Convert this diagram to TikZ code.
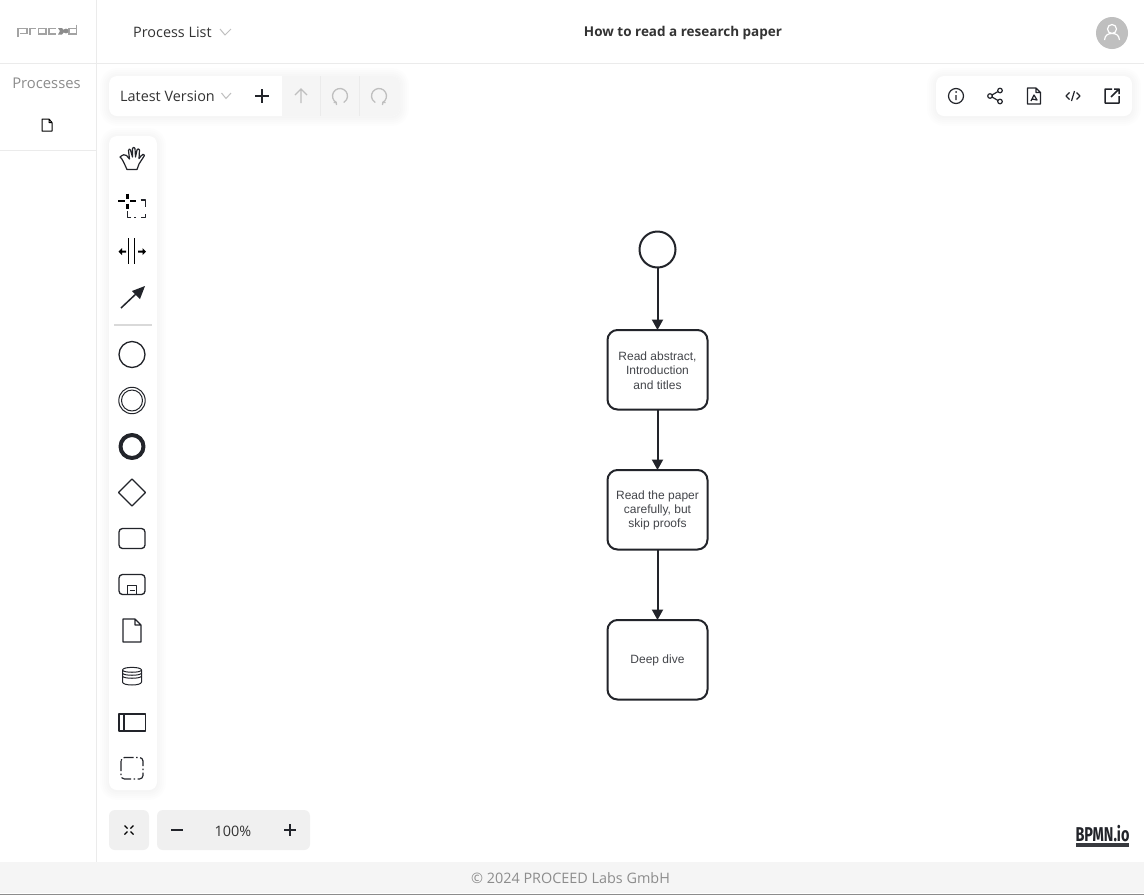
\documentclass[tikz,border=0pt]{standalone}
\usepackage{fontspec}
\setmainfont{Open Sans}
\newfontfamily\diagramfont{Liberation Sans}
\newfontfamily\brandfont{Fira Sans}
\usetikzlibrary{arrows.meta,positioning}
\definecolor{inkdark}{HTML}{22242A}
\definecolor{rulegray}{HTML}{EBEBEB}
\definecolor{mutegray}{HTML}{8C8C8C}
\definecolor{btngray}{HTML}{F0F0F0}
\definecolor{idlegray}{HTML}{BFBFBF}
\tikzset{
  bpmnevent/.style={draw=inkdark,line width=2pt,circle,minimum size=36pt,inner sep=0pt,outer sep=0pt},
  bpmntask/.style={draw=inkdark,line width=2pt,rounded corners=10pt,minimum width=100pt,minimum height=79.5pt,inner sep=0pt,outer sep=0pt,align=center,
    font=\diagramfont\fontsize{12}{14.4}\selectfont,text=inkdark!85},
  bpmnflow/.style={draw=inkdark,line width=2pt,-{Triangle[length=10.5pt,width=11pt]}},
  uilabel/.style={inner sep=0pt,font=\fontsize{14.4}{16}\selectfont,text=black!80},
  icon/.style={draw=inkdark,line width=1.2pt,line join=round},
  thin icon/.style={draw=inkdark,line width=1pt,line join=round},
  idle icon/.style={draw=idlegray,line width=1.3pt},
  chevron/.style={draw=idlegray,line width=1pt}
}
% white panel with a soft edge
\newcommand{\softpanel}[4]{
  \foreach \spread in {9,7,5,3,1}
    \draw [black,opacity=0.006,line width=\spread*2pt,rounded corners=8pt,line join=round] (#1,#2+1) rectangle (#3,#4+1);
  \fill [white,rounded corners=8pt] (#1,#2) rectangle (#3,#4);
}
% task text, set a little lower than the middle of its box
\newcommand{\tasktext}[1]{\raisebox{0pt}[\dimexpr\height+1.4pt\relax][\depth]{\parbox{95pt}{\centering #1}}}
\begin{document}
\begin{tikzpicture}[x=1pt,y=-1pt]
\useasboundingbox (0,0) rectangle (1144,895);
\fill [white] (0,0) rectangle (1144,895);
% page frame
\fill [black!4] (0,862) rectangle (1144,893);
\fill [black!45] (0,893.5) rectangle (1144,895);
\draw [rulegray] (96.5,0) -- (96.5,862);
\draw [rulegray] (0,63.5) -- (1144,63.5);
\draw [rulegray] (0,150.5) -- (96.5,150.5);
% logo
\draw [mutegray!80,line width=1.4pt]
  (18,37) -- (18,28.5) -- (27,28.5) -- (27,33.5) -- (20,33.5)
  (30,34.5) -- (30,28.5) -- (36,28.5)
  (38.5,28.5) rectangle (46,34)
  (56,28.5) -- (49,28.5) -- (49,34) -- (56,34)
  (76.5,24.5) -- (76.5,34) -- (69,34) -- (69,28.5) -- (76.5,28.5);
\fill [mutegray] (58,28) -- (62,28) -- (65,31) -- (62,34.5) -- (58,34.5) -- (60,31) -- cycle;
\fill [mutegray] (66,31) circle (2.4);
% header
\node [uilabel,anchor=west] (processlist) at (133,32) {Process List};
\draw [chevron] (220,29) -- (225,35) -- (231,29);
\node [uilabel,font=\bfseries\fontsize{13.5}{16}\selectfont] (papertitle) at (683,33) {How to read a research paper};
\fill [idlegray] (1112,33) circle (16);
\draw [white,line width=1.2pt] (1112,29) circle (4.5);
\draw [white,line width=1.2pt] (1104.5,40) .. controls (1105,35) and (1108,33.5) .. (1112,33.5) .. controls (1116,33.5) and (1119,35) .. (1119.5,40);
% sidebar
\node [uilabel,text=mutegray,font=\fontsize{14.8}{16}\selectfont] (processes) at (46.5,83) {Processes};
\draw [thin icon,draw=black] (42,119) -- (49,119) -- (52,122.5) -- (52,131) -- (42,131) -- cycle (49,119) -- (49,122.5) -- (52,122.5);
% version bar
\softpanel{109}{76}{400}{116}
\begin{scope}
\clip [rounded corners=8pt] (109,76) rectangle (400,116);
\fill [black!4] (282,76) rectangle (400,116);
\end{scope}
\draw [rulegray] (320.5,76) -- (320.5,116);
\draw [rulegray] (359.5,76) -- (359.5,116);
\node [uilabel,anchor=west] (latestversion) at (120,96) {Latest Version};
\draw [chevron] (221.5,93) -- (226,98.5) -- (231,93);
\draw [icon,line width=1.5pt] (255,96) -- (269,96) (262,89) -- (262,103);
\draw [idle icon] (301,103) -- (301,89) (295,95) -- (301,89) -- (307,95);
\draw [idle icon] (336.25,102.5) arc (120:420:7.5);
\draw [idle icon] (333.5,102.5) -- (336.25,102.5) -- (336.5,105);
\draw [idle icon] (382.75,102.5) arc (60:-240:7.5);
\draw [idle icon] (385.5,102.5) -- (382.75,102.5) -- (382.5,105);
% right panel
\softpanel{936}{76}{1132}{116}
\draw [icon] (956,96) circle (7.5) (956,95) -- (956,100);
\fill [inkdark] (956,92) circle (1);
\draw [icon] (990,96) circle (2.3) (1000,90.5) circle (2.3) (1000,101.5) circle (2.3) (992,95) -- (998,91.5) (992,97) -- (998,100.5);
\draw [icon] (1027.5,88) -- (1036,88) -- (1040.5,92.5) -- (1040.5,104) -- (1027.5,104) -- cycle (1036,88) -- (1036,92.5) -- (1040.5,92.5)
  (1031,101) -- (1034,95) -- (1037,100) -- (1032,99);
\draw [icon] (1069.5,92.5) -- (1066,96) -- (1069.5,99.5) (1076.5,92.5) -- (1080,96) -- (1076.5,99.5) (1074.5,91) -- (1071.5,101);
\draw [icon,line width=1.5pt] (1112,89) -- (1105,89) -- (1105,103) -- (1119,103) -- (1119,96) (1111,97) -- (1119,89) (1114,89) -- (1119,89) -- (1119,94);
% palette
\softpanel{109}{136}{157}{790}
\draw [thin icon,line width=1.2pt] (127,169.5) -- (137,169.5) -- (139,164) -- (144.5,155.5) .. controls (144,153.5) and (142.5,154) .. (141,156) -- (139,158.5) -- (139.5,150) .. controls (139,148.5) and (137.5,148.5) .. (137,150) -- (135.5,157) -- (135,148.5) .. controls (134.5,147) and (133,147) .. (132.5,148.5) -- (132.5,157) -- (130.5,150) .. controls (130,148.5) and (128.5,149) .. (128.5,150.5) -- (129.5,159) -- (126.5,155.5) .. controls (125,154) and (123,154.5) .. (120,157) .. controls (122,158) and (124,163) .. (127,169.5) -- cycle;
\draw [line width=2.4pt,draw=black] (118,201) -- (125,201) (130,201) -- (136,201) (127.5,193.5) -- (127.5,199) (127.5,203.5) -- (127.5,209);
\draw [thin icon,line width=1.4pt] (140.5,200) -- (145.5,200) -- (145.5,207)
  (145.5,214) -- (145.5,217.5) -- (140.5,217.5) (136,217.5) -- (133.5,217.5)
  (131,217.5) -- (127.5,217.5) -- (127.5,211);
\draw [thin icon,draw=black,line width=1.2pt] (128.5,238) -- (128.5,264) (134.5,238) -- (134.5,264);
\fill [black] (118.5,251.5) -- (122,248) -- (122,250.5) -- (126,250.5) -- (126,252.5) -- (122,252.5) -- (122,255) -- cycle;
\fill [black] (146,251.5) -- (142.5,248) -- (142.5,250.5) -- (138,250.5) -- (138,252.5) -- (142.5,252.5) -- (142.5,255) -- cycle;
\draw [line width=1.5pt,draw=inkdark] (121,308) -- (138,292);
\fill [inkdark] (145,286) -- (132,291) -- (140,299) -- cycle;
\fill [black!15] (114,324) rectangle (152,326);
\draw [thin icon,line width=1.3pt] (132,354.5) circle (13);
\draw [thin icon] (132,400.5) circle (13.2) (132,400.5) circle (10.5);
\draw [icon,line width=4pt] (132,446.5) circle (11.5);
\draw [thin icon,line width=1.3pt] (132,479) -- (145.5,492.5) -- (132,506) -- (118.5,492.5) -- cycle;
\draw [thin icon,line width=1.3pt,rounded corners=3.5pt] (119,528.5) rectangle (145,548.5);
\draw [thin icon,line width=1.3pt,rounded corners=3.5pt] (119,574.5) rectangle (145,594.5);
\draw [thin icon] (127.5,594.5) rectangle (136.5,585) (129.5,590) -- (134.5,590);
\draw [thin icon,line width=1.2pt] (123,619) -- (135,619) -- (141,625) -- (141,642) -- (123,642) -- cycle (135,619) -- (135,625) -- (141,625);
\draw [thin icon] (122.5,670) .. controls (122.5,666.5) and (141.5,666.5) .. (141.5,670) -- (141.5,682) .. controls (141.5,686) and (122.5,686) .. (122.5,682) -- cycle
  (122.5,670) .. controls (122.5,673) and (141.5,673) .. (141.5,670)
  (122.5,673) .. controls (122.5,676) and (141.5,676) .. (141.5,673)
  (122.5,676) .. controls (122.5,679) and (141.5,679) .. (141.5,676);
\draw [thin icon,line width=1.1pt] (119,714) rectangle (145.5,731) (124,714) -- (124,731);
\draw [thin icon,line width=1.2pt,rounded corners=3.5pt,dash pattern=on 10pt off 2.5pt on 1.5pt off 2.5pt] (121,757.5) rectangle (143,779);
% zoom controls
\fill [btngray,rounded corners=6pt] (109,810) rectangle (149,850);
\fill [btngray,rounded corners=6pt] (157,810) rectangle (310,850);
\draw [thin icon,line width=1.3pt,draw=black]
  (124.5,825.5) -- (127.5,828.5) (133.5,825.5) -- (130.5,828.5)
  (124.5,834.5) -- (127.5,831.5) (133.5,834.5) -- (130.5,831.5);
\draw [icon,line width=1.1pt] (171,830) -- (183,830);
\node [uilabel] (zoomlevel) at (233,831) {100\%};
\draw [icon,line width=1.1pt] (284,830) -- (296,830) (290,824) -- (290,836);
% bpmn diagram
\node [bpmnevent] (startevent) at (657.5,249.5) {};
\node [bpmntask] (readabstract) at (657.5,369.75) {\tasktext{Read abstract,\\Introduction\\and titles}};
\node [bpmntask] (readpaper) at (657.5,509.75) {\tasktext{Read the paper\\carefully, but\\skip proofs}};
\node [bpmntask] (deepdive) at (657.5,659.75) {\tasktext{Deep dive}};
\draw [bpmnflow] (startevent) -- (readabstract);
\draw [bpmnflow] (readabstract) -- (readpaper);
\draw [bpmnflow] (readpaper) -- (deepdive);
% footer
\node [inner sep=0pt,font=\brandfont\bfseries\fontsize{20}{22}\selectfont,text=inkdark,xscale=0.72] (bpmnio) at (1102.5,834) {BPMN.io};
\fill [inkdark!90] (1076,843) rectangle (1129,847);
\node [uilabel,text=mutegray] (copyright) at (570.5,878) {© 2024 PROCEED Labs GmbH};
\end{tikzpicture}
\end{document}
